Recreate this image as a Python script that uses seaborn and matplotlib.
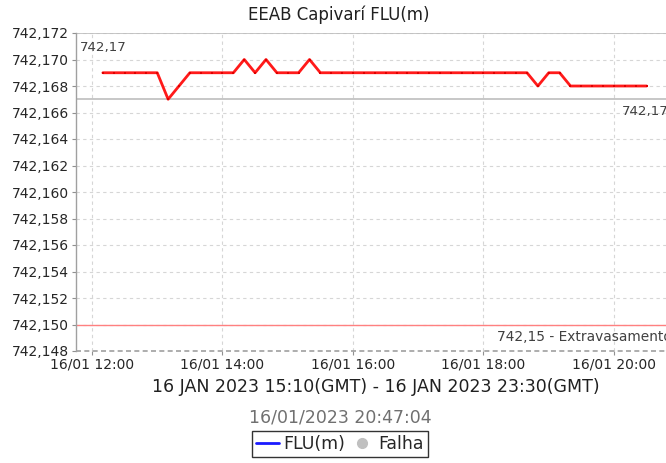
import matplotlib
matplotlib.use("Agg")
import matplotlib.pyplot as plt
import matplotlib.dates as mdates
import matplotlib.transforms as mtransforms
from matplotlib.lines import Line2D
import seaborn as sns
import pandas as pd

# ---- data ----
start_time = "2023-01-16 12:10"
n_points = 51
levels = [742.169, 742.169, 742.169, 742.169, 742.169, 742.169, 742.167, 742.168,
          742.169, 742.169, 742.169, 742.169, 742.169, 742.170, 742.169, 742.170,
          742.169, 742.169, 742.169, 742.170, 742.169, 742.169, 742.169, 742.169,
          742.169, 742.169, 742.169, 742.169, 742.169, 742.169, 742.169, 742.169,
          742.169, 742.169, 742.169, 742.169, 742.169, 742.169, 742.169, 742.169,
          742.168, 742.169, 742.169, 742.168, 742.168, 742.168, 742.168, 742.168,
          742.168, 742.168, 742.168]
times = pd.date_range(start_time, periods=n_points, freq="10min")
y_ticks = [742.148, 742.150, 742.152, 742.154, 742.156, 742.158, 742.160, 742.162,
           742.164, 742.166, 742.168, 742.170, 742.172]
x_ticks = pd.to_datetime(["2023-01-16 12:00", "2023-01-16 14:00", "2023-01-16 16:00",
                          "2023-01-16 18:00", "2023-01-16 20:00"])
marker_top = 742.172
marker_mid = 742.167
marker_low = 742.150
marker_top_label = "742,17"
marker_mid_label = "742,17"
marker_low_label = "742,15 - Extravasamento"
title = "EEAB Capivarí FLU(m)"
xlabel = "16 JAN 2023 15:10(GMT) - 16 JAN 2023 23:30(GMT)"
stamp = "16/01/2023 20:47:04"
series_name = "FLU(m)"
fail_name = "Falha"

df = pd.DataFrame({"time": times, "value": levels})

sns.set_style("white")
plt.rcParams["font.family"] = ["DejaVu Sans"]

W, H = 666, 463
fig = plt.figure(figsize=(W / 100, H / 100), dpi=100)
ax = fig.add_axes([76 / W, (H - 351) / H, (666 - 76) / W, (351 - 33) / H])

xmin = pd.Timestamp("2023-01-16 12:00") - pd.Timedelta(hours=16 / 65.25)
xmax = pd.Timestamp("2023-01-16 12:00") + pd.Timedelta(hours=(666 - 92) / 65.25)
ax.set_xlim(xmin, xmax)
ax.set_ylim(742.148, 742.172)

# grid
for yt in y_ticks:
    ax.axhline(yt, color="#d6d6d6", lw=0.8, ls=(0, (3, 3)), zorder=0)
for xt in x_ticks:
    ax.axvline(xt, color="#d6d6d6", lw=0.8, ls=(0, (3, 3)), zorder=0)

# range markers
ax.axhline(marker_top, color="#bdbdbd", lw=1.2, zorder=1)
ax.axhline(marker_mid, color="#bdbdbd", lw=1.2, zorder=1)
ax.axhline(marker_low, color="#ff8080", lw=1.0, zorder=1)

sns.lineplot(data=df, x="time", y="value", ax=ax, color="#ff1a1a", lw=2.0,
             marker="s", markersize=1.6, markeredgewidth=0, markerfacecolor="#e00000",
             zorder=3, legend=False)

blend = mtransforms.blended_transform_factory(fig.transFigure, ax.transData)
ax.text(80 / W, marker_top - 0.0006, marker_top_label, transform=blend, fontsize=9.6,
        color="#404040", va="top")
ax.text(622 / W, marker_mid - 0.0004, marker_mid_label, transform=blend, fontsize=9.6,
        color="#404040", va="top")
ax.text(497 / W, marker_low - 0.0004, marker_low_label, transform=blend, fontsize=9.9,
        color="#404040", va="top")

ax.set_yticks(y_ticks)
ax.set_yticklabels([f"{v:.3f}".replace(".", ",") for v in y_ticks], fontsize=10)
ax.set_xticks(x_ticks)
ax.xaxis.set_major_formatter(mdates.DateFormatter("%d/%m %H:%M"))
for lab in ax.get_xticklabels():
    lab.set_fontsize(10)
ax.tick_params(axis="both", length=3, width=0.8, color="#909090", pad=2, direction="out")
ax.tick_params(axis="both", which="both", left=True, bottom=True)

for s in ["top", "right", "bottom"]:
    ax.spines[s].set_visible(False)
ax.spines["left"].set_color("#a0a0a0")
ax.spines["left"].set_linewidth(1.0)
ax.axhline(742.148, color="#a0a0a0", lw=1.2, ls=(0, (3, 2)), zorder=1, clip_on=False)

ax.set_xlabel("")
ax.set_ylabel("")

fig.text(339 / W, 1 - 15 / H, title, ha="center", va="center", fontsize=12, color="#202020")
fig.text(376 / W, 1 - 387 / H, xlabel, ha="center", va="center", fontsize=12.5, color="#202020")
fig.text(340 / W, 1 - 417 / H, stamp, ha="center", va="center", fontsize=12.5, color="#707070")

handles = [Line2D([], [], color="#1a1aff", lw=2),
           Line2D([], [], color="#c0c0c0", marker="o", ls="", markersize=7)]
leg = fig.legend(handles, [series_name, fail_name], loc="center", ncol=2,
                 bbox_to_anchor=(340 / W, 1 - 444 / H), fontsize=12.5, frameon=True,
                 fancybox=False, handlelength=1.3, handletextpad=0.3, columnspacing=0.3,
                 borderpad=0.25, borderaxespad=0)
leg.get_frame().set_edgecolor("black")
leg.get_frame().set_linewidth(1.0)

fig.savefig("out.png", dpi=100)
